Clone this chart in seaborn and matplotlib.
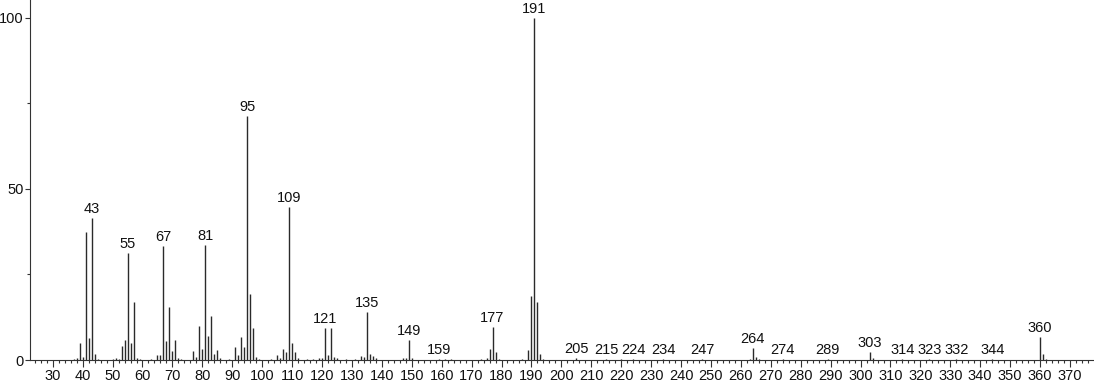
import matplotlib
matplotlib.use("Agg")
import matplotlib.pyplot as plt
import seaborn as sns
import pandas as pd
from matplotlib.ticker import MultipleLocator

mz = [37, 38, 39, 40, 41, 42, 43, 44, 45, 50, 51, 52, 53, 54, 55, 56, 57, 58, 59, 63,
      65, 66, 67, 68, 69, 70, 71, 72, 73, 77, 78, 79, 80, 81, 82, 83, 84, 85, 86, 89,
      91, 92, 93, 94, 95, 96, 97, 98, 99, 103, 105, 106, 107, 108, 109, 110, 111, 112,
      115, 117, 119, 120, 121, 122, 123, 124, 125, 128, 131, 133, 134, 135, 136, 137,
      138, 147, 148, 149, 150, 159, 161, 163, 173, 175, 176, 177, 178, 179, 187, 189,
      190, 191, 192, 193, 194, 205, 215, 220, 224, 234, 247, 263, 264, 265, 266, 274,
      289, 303, 304, 314, 323, 332, 344, 360, 361, 362]
intensity = [0.3, 0.6, 5.1, 0.9, 37.5, 6.5, 41.4, 1.7, 0.3, 0.3, 0.5, 0.4, 4.2, 5.8, 31.2, 5.0, 17.0, 0.7, 0.3, 0.3,
             1.4, 1.4, 33.3, 5.5, 15.5, 2.6, 5.8, 0.6, 0.3, 2.6, 1.0, 9.9, 3.3, 33.5, 7.1, 12.9, 1.7, 3.0, 0.6, 0.3,
             3.7, 1.5, 6.8, 3.7, 71.3, 19.3, 9.5, 1.0, 0.4, 0.3, 1.5, 0.7, 3.2, 2.2, 44.8, 4.9, 2.2, 0.6,
             0.3, 0.3, 0.6, 0.5, 9.3, 1.5, 9.3, 0.9, 0.5, 0.3, 0.4, 1.3, 0.8, 14.1, 1.8, 1.2,
             0.5, 0.5, 0.5, 5.8, 0.7, 0.4, 0.3, 0.3, 0.3, 0.6, 3.3, 9.7, 2.3, 0.4, 0.4, 2.9,
             18.7, 100.0, 17.1, 1.7, 0.4, 0.5, 0.3, 0.2, 0.3, 0.3, 0.3, 0.4, 3.4, 1.0, 0.3, 0.3,
             0.3, 2.4, 0.5, 0.3, 0.3, 0.3, 0.3, 6.8, 1.9, 0.4]
labeled_mz = [43, 55, 67, 81, 95, 109, 121, 135, 149, 159, 177, 191, 205, 215, 224,
              234, 247, 264, 274, 289, 303, 314, 323, 332, 344, 360]
x_ticks = list(range(30, 380, 10))
y_ticks = [0, 50, 100]

df = pd.DataFrame({"mz": mz, "intensity": intensity})

sns.set_style("ticks")
plt.rcParams["font.family"] = ["Liberation Sans", "DejaVu Sans"]

fig = plt.figure(figsize=(10.94, 3.84), dpi=100)
ax = fig.add_axes([30 / 1094, 1 - 360 / 384, (1093 - 30) / 1094, 360 / 384])

ax.vlines(df["mz"], 0, df["intensity"], color="#2a2a2a", linewidth=1.0)

lookup = dict(zip(mz, intensity))
for m in labeled_mz:
    ax.annotate(str(m), (m, lookup[m]), xytext=(0, 1.5), textcoords="offset points",
                ha="center", va="bottom", fontsize=10.5, color="#111111")

ax.set_xlim(22.4, 377.7)
ax.set_ylim(0, 105.26)
ax.set_xticks(x_ticks)
ax.set_yticks(y_ticks)
ax.xaxis.set_minor_locator(MultipleLocator(2))
ax.yaxis.set_minor_locator(MultipleLocator(25))
ax.tick_params(axis="x", which="major", labelsize=10.5, length=5, width=0.8,
               color="#333333", labelcolor="#111111", pad=1.5)
ax.tick_params(axis="y", which="major", labelsize=10.5, length=3.6, width=0.8,
               color="#333333", labelcolor="#111111", pad=1)
ax.tick_params(axis="x", which="minor", length=2.5, width=0.8, color="#333333")
ax.tick_params(axis="y", which="minor", length=2.5, width=0.8, color="#333333")
sns.despine(ax=ax)
for s in ["left", "bottom"]:
    ax.spines[s].set_color("#333333")
    ax.spines[s].set_linewidth(0.8)
ax.set_xlabel("")
ax.set_ylabel("")

fig.savefig("out.png", dpi=100)
